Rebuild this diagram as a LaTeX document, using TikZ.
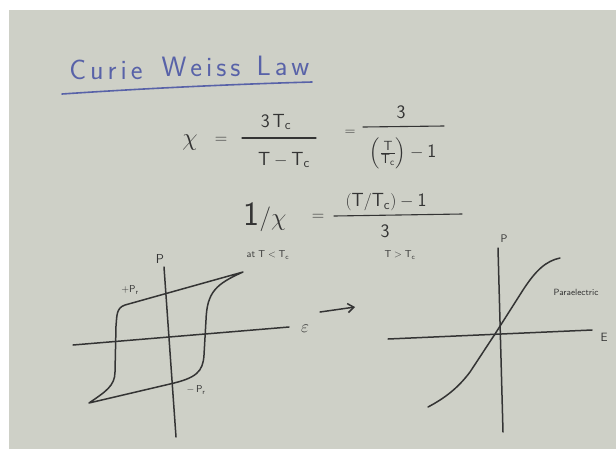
\documentclass[tikz,border=0pt]{standalone}
\usepackage{fontspec}
\usepackage{amsmath}
\usetikzlibrary{arrows.meta}
\definecolor{bgc}{RGB}{206,208,199}
\definecolor{inkc}{RGB}{52,52,52}
\definecolor{bluec}{RGB}{88,98,168}
\newcommand{\Tcc}{\mathsf{T}_{\mathsf{c}}}
\newcommand{\TT}{\mathsf{T}}
\newcommand{\ls}{\kern4pt}
\begin{document}
\begin{tikzpicture}[x=1pt,y=-1pt,
  ink/.style={draw=inkc, line width=1.5pt, line cap=round, line join=round},
  thinink/.style={draw=inkc, line width=1.1pt, line cap=round},
  lbl/.style={text=inkc, inner sep=0pt, font=\sffamily},
  eqn/.style={text=inkc, inner sep=0pt, font=\fontsize{19}{19}\selectfont},
  small/.style={text=inkc, inner sep=0pt, font=\sffamily\fontsize{10}{10}\selectfont},
  ttl/.style={text=bluec, inner sep=0pt, font=\sffamily\fontsize{28}{28}\selectfont}]
\fill[white] (0,0) rectangle (616,451);
\fill[bgc] (9,10) rectangle (616,449);
\useasboundingbox (0,0) rectangle (616,451);

% title
\node[ttl] (t1) at (106,70) {C\ls u\ls r\ls i\ls e};
\node[ttl] (t2) at (201,67) {W\ls e\ls i\ls s\ls s};
\node[ttl] (t3) at (283,66) {L\ls a\ls w};
\draw[draw=bluec, line width=1.6pt, line cap=round] (62,94) .. controls (150,88) and (240,84) .. (312,82);

% first equation
\node[text=inkc, inner sep=0pt, font=\fontsize{40}{40}\selectfont] (chi1) at (190,143) {$\chi$};
\node[eqn] (eq1) at (221,140) {$=$};
\node[eqn] (num1) at (276,122) {$\mathsf{3}\,\Tcc$};
\draw[thinink] (242,138) -- (316,138);
\node[eqn] (den1) at (284,160) {$\TT-\Tcc$};
\node[eqn, font=\fontsize{14}{14}\selectfont] (eq2) at (350,133) {$=$};
\node[eqn] (num2) at (401,112) {$\mathsf{3}$};
\draw[thinink] (363,127) -- (444,126);
\node[eqn] (den2) at (403,153) {$\Bigl(\genfrac{}{}{0.6pt}{1}{\TT}{\Tcc}\Bigr)-\mathsf{1}$};

% second equation
\node[text=inkc, inner sep=0pt, font=\fontsize{34}{34}\selectfont] (invchi) at (265,217) {$\mathsf{1}/\chi$};
\node[eqn] (eq3) at (318,217) {$=$};
\node[eqn] (num3) at (386,202) {$(\TT/\Tcc)-\mathsf{1}$};
\draw[thinink] (334,216) -- (462,214);
\node[eqn] (den3) at (385,231) {$\mathsf{3}$};

\node[small] (atlow) at (268,255) {at $\mathsf{T}<\mathsf{T}_{\mathsf{c}}$};
\node[small] (high) at (400,255) {$\mathsf{T}>\mathsf{T}_{\mathsf{c}}$};

% left graph: hysteresis
\draw[ink] (164,267) -- (176,437);
\draw[ink] (73,345) -- (289,327);
\node[lbl, font=\sffamily\fontsize{13}{13}\selectfont] (P1) at (160,259) {P};
\node[text=inkc, inner sep=0pt, font=\fontsize{16}{16}\selectfont] (E1) at (305,329) {$\varepsilon$};
\draw[ink] (243,272) -- (125,305) .. controls (116,308) and (117,316) .. (116,326)
  -- (115,372) .. controls (115,386) and (105,392) .. (89,403)
  -- (170,384) .. controls (196,378) and (203,372) .. (204,355)
  -- (206,320) .. controls (207,292) and (216,284) .. (243,272);
\node[small, font=\sffamily\fontsize{10}{10}\selectfont] (pr1) at (130,290) {+P$_{\mathsf{r}}$};
\node[small, font=\sffamily\fontsize{10}{10}\selectfont] (pr2) at (196,390) {$-$\,P$_{\mathsf{r}}$};

% arrow
\coordinate (a1) at (320,312);
\coordinate (a2) at (355,307);
\draw[ink, -{Straight Barb[length=6pt,width=9pt]}] (a1) -- (a2);

% right graph
\draw[ink] (498,248) -- (503,432);
\draw[ink] (388,339) -- (592,330);
\node[lbl, font=\sffamily\fontsize{11}{11}\selectfont] (P2) at (504,239) {P};
\node[lbl, font=\sffamily\fontsize{12}{12}\selectfont] (E2) at (604,337) {E};
\draw[ink] (428,407) .. controls (445,398) and (458,388) .. (470,372)
  -- (495,334) -- (523,290) .. controls (536,270) and (546,261) .. (560,258);
\node[small, font=\sffamily\fontsize{9}{9}\selectfont] (para) at (576,292) {Paraelectric};
\end{tikzpicture}
\end{document}
